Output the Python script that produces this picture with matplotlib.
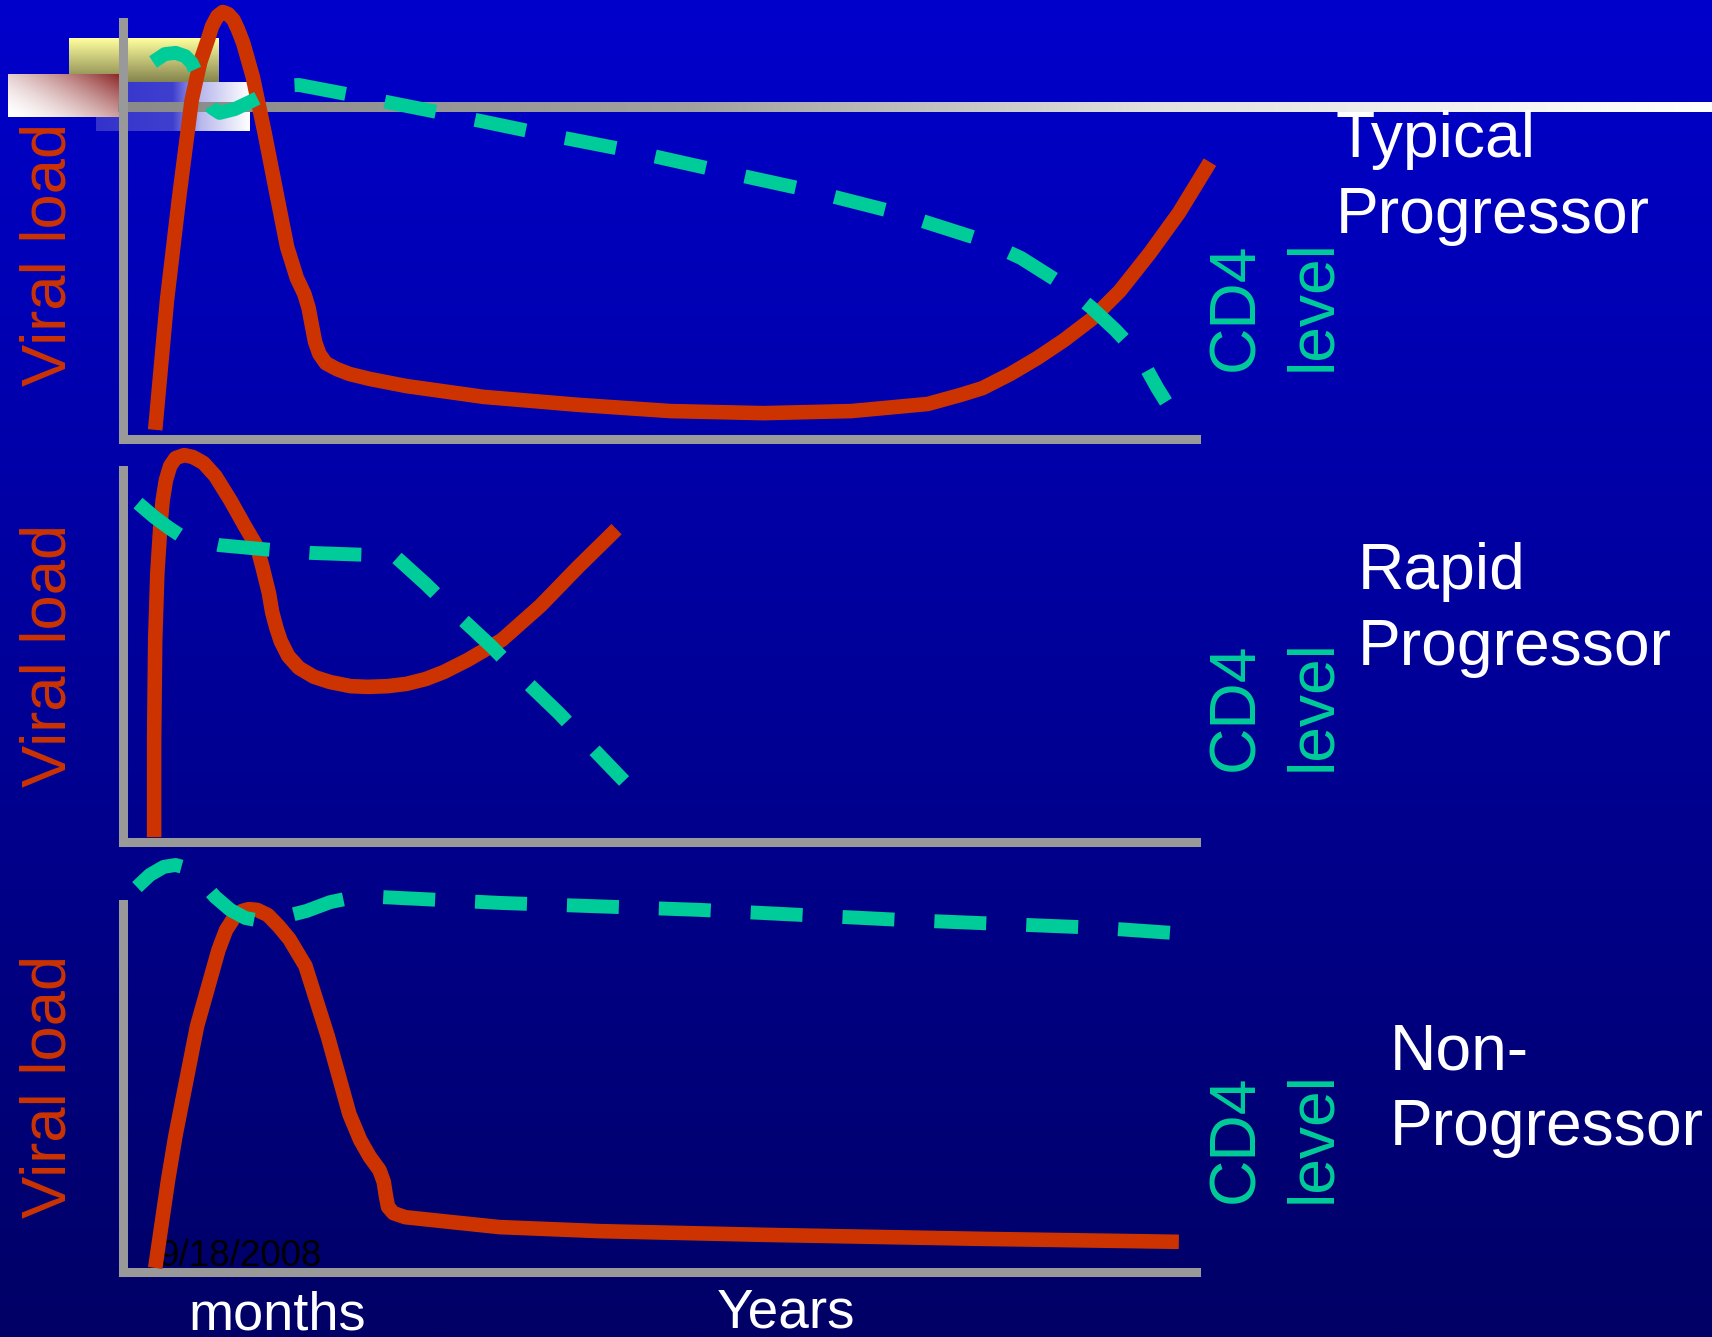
import numpy as np
import matplotlib.pyplot as plt
from matplotlib.colors import to_rgb

plt.rcParams['font.family'] = ['Liberation Sans', 'DejaVu Sans']

# --- data: time (0-100) and level (0-100) for each panel ---
# Typical progressor
t1_viral = [3.0, 4.1, 5.2, 5.8, 6.4, 7.2, 7.9, 8.3, 8.8, 9.3, 9.8, 10.3, 10.7, 11.2, 12.1, 13.2,
            14.3, 15.3, 16.2, 16.9, 17.3, 17.6, 17.9, 18.3, 18.9, 19.9, 21.1, 23.0, 26.4, 33.6, 42.4,
            51.0, 59.7, 67.9, 75.0, 78.1, 80.1, 82.7, 85.2, 87.7, 90.3, 92.9, 95.7, 98.4, 101.3]
v1_viral = [2.2, 33.3, 57.3, 69.3, 81.3, 90.4, 95.7, 99.0, 101.4, 102.4, 101.9, 100.5, 98.3, 95.0, 86.8, 73.4,
            59.0, 46.0, 38.6, 34.8, 31.4, 27.3, 23.3, 20.4, 18.2, 16.8, 15.6, 14.4, 12.7, 10.1, 8.2,
            6.7, 6.2, 6.7, 8.4, 10.6, 12.2, 15.6, 19.4, 23.7, 28.8, 35.5, 44.6, 54.2, 66.4]
t1_cd4 = [2.8, 3.9, 4.9, 5.8, 6.4, 7.0, 7.6, 8.3, 9.0, 10.4, 11.8, 13.5, 14.9, 16.4, 21.3, 29.7, 38.3,
          46.9, 55.6, 63.8, 71.9, 80.1, 83.7, 87.7, 90.3, 92.5, 94.7, 96.4, 97.2]
v1_cd4 = [90.4, 92.3, 92.6, 91.8, 90.2, 86.8, 82.5, 79.4, 78.2, 79.1, 80.8, 83.0, 84.7, 84.9, 82.5, 78.2, 73.6,
          69.3, 64.3, 59.7, 54.4, 47.7, 43.4, 36.9, 31.4, 26.1, 20.1, 12.2, 8.9]

# Rapid progressor
t2_viral = [2.9, 2.9, 3.0, 3.2, 3.5, 3.7, 4.0, 4.4, 4.9, 5.7, 6.5, 7.5, 8.6, 10.0, 11.4, 12.5,
            13.0, 13.6, 13.9, 14.3, 14.7, 15.4, 16.4, 17.8, 19.3, 21.2, 22.8, 24.7, 26.4, 28.2, 29.9,
            32.1, 35.3, 38.9, 42.4, 46.0]
v2_viral = [1.3, 27.4, 54.3, 72.3, 85.8, 91.9, 97.3, 101.1, 103.2, 104.0, 103.5, 101.9, 98.4, 91.9, 84.7, 79.3,
            73.9, 66.9, 61.8, 57.5, 54.0, 50.0, 46.8, 44.4, 43.0, 41.9, 41.7, 41.9, 42.5, 43.8, 45.7,
            48.9, 54.3, 63.5, 73.9, 84.1]
t2_cd4 = [1.4, 2.9, 4.3, 5.3, 7.2, 9.0, 13.9, 17.6, 22.6, 23.7, 24.6, 28.2, 30.9, 34.4, 37.1, 40.6, 43.2, 46.7]
v2_cd4 = [91.1, 87.4, 84.4, 82.5, 80.9, 79.8, 78.5, 77.7, 77.2, 78.2, 78.8, 69.4, 61.8, 52.4, 44.4, 34.7, 26.9, 16.4]

# Non-progressor
t3_viral = [3.0, 4.2, 4.9, 6.9, 8.9, 9.6, 10.4, 11.1, 11.7, 12.5, 13.5, 14.5, 15.5, 17.0, 19.1, 21.1,
            22.1, 23.0, 23.9, 24.3, 24.5, 24.7, 25.2, 26.3, 30.5, 35.1, 44.5, 59.7, 80.2, 98.4]
v3_viral = [1.1, 25.0, 37.2, 66.8, 87.5, 92.9, 96.5, 98.1, 98.6, 98.4, 97.0, 94.0, 90.5, 83.2, 63.9, 42.9,
            35.9, 31.3, 27.7, 24.5, 20.7, 17.7, 16.0, 14.9, 13.6, 12.2, 11.1, 10.1, 9.0, 8.2]
t3_cd4 = [1.3, 2.5, 3.8, 4.9, 5.9, 7.2, 8.6, 10.0, 11.4, 12.3, 13.7, 15.6, 17.1, 19.3, 21.1, 24.0,
          35.1, 53.8, 72.4, 91.1, 98.0]
v3_cd4 = [104.6, 107.9, 110.1, 110.6, 109.8, 106.5, 101.9, 98.4, 96.2, 95.7, 96.2, 97.0, 98.1, 100.5, 101.6, 101.9,
          100.3, 98.4, 95.7, 93.5, 92.1]

panel_titles = [("Typical", "Progressor"), ("Rapid", "Progressor"), ("Non-", "Progressor")]
date_text = "9/18/2008"

RED = '#CC3300'
TEAL = '#00CC99'
GRAY = '#999999'

W, H = 1712, 1337
fig = plt.figure(figsize=(W / 100, H / 100), dpi=100)

# background axes in pixel units
bg = fig.add_axes([0, 0, 1, 1])
bg.set_xlim(0, W)
bg.set_ylim(H, 0)
bg.axis('off')


def grad_img(ax, x0, x1, y0, y1, img, z):
    ax.imshow(img, extent=(x0, x1, y1, y0), origin='upper', aspect='auto',
              interpolation='bilinear', zorder=z)


# slide background: vertical blue gradient
g = np.linspace(0, 1, 256)[:, None, None]
top_c = np.array(to_rgb('#0000CC'))
bot_c = np.array(to_rgb('#000066'))
grad_img(bg, 0, W, 0, H, top_c * (1 - g) + bot_c * g, 0)

# template decorations top-left
gy = np.linspace(0, 1, 64)[:, None, None]
yel = np.array(to_rgb('#FFFF9E')) * (1 - gy) + np.array(to_rgb('#85854F')) * gy
grad_img(bg, 69, 219, 38, 82, np.repeat(yel, 8, axis=1), 1)

gx = np.linspace(0, 1, 128)
mix = np.interp(gx, [0, 0.5, 0.68, 1.0], [0.0, 0.06, 0.65, 1.0])[None, :, None]
blu = np.array(to_rgb('#3333CC')) * (1 - mix) + np.ones(3) * mix
grad_img(bg, 96, 250, 82, 131, np.repeat(blu, 8, axis=0), 1)

xx, yy = np.meshgrid(np.linspace(0, 1, 64), np.linspace(0, 1, 32))
u = np.clip(0.62 * xx + 0.38 * (1 - yy), 0, 1) ** 1.6
red_img = np.ones(3) * (1 - u[..., None]) + np.array(to_rgb('#861818')) * u[..., None]
grad_img(bg, 8, 128, 74, 117, red_img, 1.5)

# title underline: gray to white
lx = np.linspace(0, 1, 400)
lv = np.interp(lx, [0, 0.36, 0.65, 1.0], [0.54, 0.63, 0.88, 1.0])
grad_img(bg, 118, W, 102, 112, np.repeat(lv[None, :, None], 3, axis=2), 2)

# panels
panel_top = [22, 470, 904]
panel_bottom = [439, 842, 1272]
x_left, x_right = 123, 1196

series = [(t1_viral, v1_viral, t1_cd4, v1_cd4),
          (t2_viral, v2_viral, t2_cd4, v2_cd4),
          (t3_viral, v3_viral, t3_cd4, v3_cd4)]

lw_cd4 = 10
for top, bottom, (tv, vv, tc, vc) in zip(panel_top, panel_bottom, series):
    ax = fig.add_axes([x_left / W, 1 - bottom / H, (x_right - x_left) / W, (bottom - top) / H])
    ax.set_xlim(0, 100)
    ax.set_ylim(0, 100)
    ax.patch.set_visible(False)
    ax.spines['top'].set_visible(False)
    ax.spines['right'].set_visible(False)
    for s in ['left', 'bottom']:
        ax.spines[s].set_color(GRAY)
        ax.spines[s].set_linewidth(6.5)
    ax.set_xticks([])
    ax.set_yticks([])
    ax.plot(tv, vv, color=RED, lw=10.5, solid_capstyle='butt', solid_joinstyle='round',
            clip_on=False, zorder=3)
    ax.plot(tc, vc, color=TEAL, lw=lw_cd4, linestyle=(0, (37.4 / lw_cd4, 28.8 / lw_cd4)),
            dash_capstyle='butt', dash_joinstyle='round', clip_on=False, zorder=4)

# labels
big = 46.2
viral_bottom = [386, 787, 1218]
cd4_bottom = [371, 771, 1203]
title_base = [(157, 233), (589, 665), (1069, 1145)]
title_x = [1336, 1358, 1390]

for i in range(3):
    bg.text(66, viral_bottom[i], "Viral load", color=RED, fontsize=45.6, rotation=90,
            rotation_mode='anchor', ha='left', va='baseline', zorder=5)
    bg.text(1253, cd4_bottom[i], "CD4", color=TEAL, fontsize=big, rotation=90,
            rotation_mode='anchor', ha='left', va='baseline', zorder=5)
    bg.text(1330, cd4_bottom[i], "level", color=TEAL, fontsize=big, rotation=90,
            rotation_mode='anchor', ha='left', va='baseline', zorder=5)
    l1, l2 = panel_titles[i]
    bg.text(title_x[i], title_base[i][0], l1, color='white', fontsize=big,
            ha='left', va='baseline', zorder=5)
    bg.text(title_x[i], title_base[i][1], l2, color='white', fontsize=big,
            ha='left', va='baseline', zorder=5)

bg.text(188, 1329, "months", color='white', fontsize=39, ha='left', va='baseline', zorder=5)
bg.text(717, 1327, "Years", color='white', fontsize=39.5, ha='left', va='baseline', zorder=5)
bg.text(158, 1266, date_text, color='black', fontsize=26.5, ha='left', va='baseline', zorder=3)

fig.savefig('out.png', dpi=100)
